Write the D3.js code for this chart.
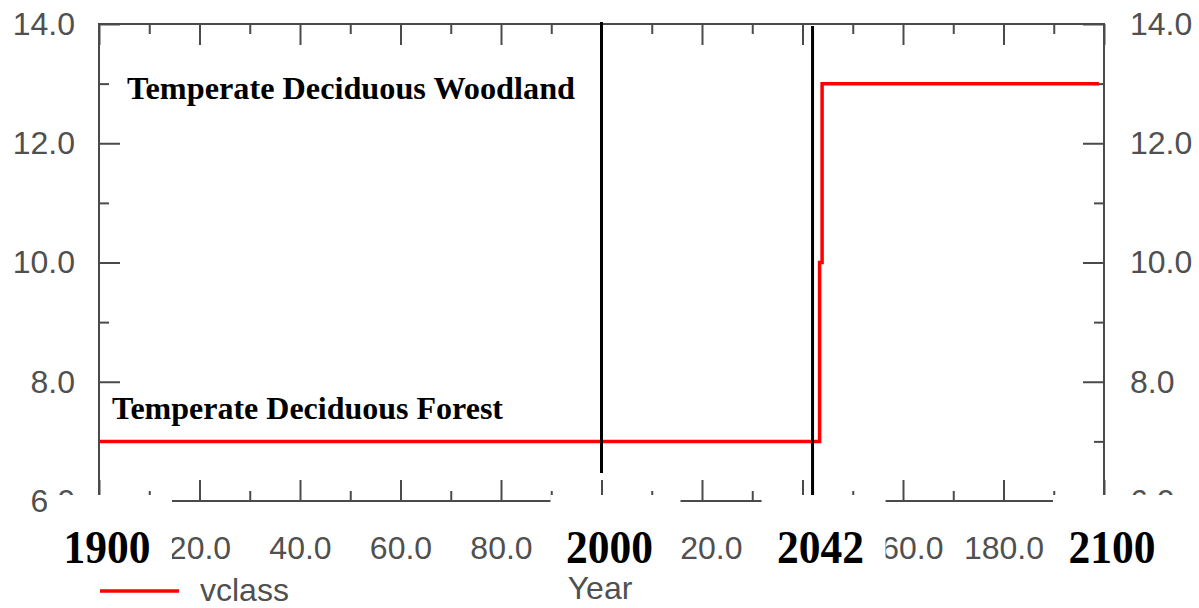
<!DOCTYPE html>
<html>
<head>
<meta charset="utf-8">
<script src="https://cdn.jsdelivr.net/npm/d3@7"></script>
<style>
  html, body { margin: 0; padding: 0; background: #ffffff; }
  svg { display: block; }
</style>
</head>
<body>
<svg id="chart" width="1199" height="608"></svg>
<script>
// Vegetation class series (step changes), calendar years
const years = [1900, 2043.4, 2043.9, 2099];
const vclass = [7, 10, 13, 13];

// Reference years marked with vertical lines and bold year labels
const refLineYears = [2000, 2042];
const yearLabels = [1900, 2000, 2042, 2100];

// Axis ticks
const yMajorTicks = [6, 8, 10, 12, 14];
const yMinorTicks = [7, 9, 11, 13];
const xMajorTicks = [1900, 1920, 1940, 1960, 1980, 2000, 2020, 2040, 2060, 2080, 2100];
const xMinorTicks = [1910, 1930, 1950, 1970, 1990, 2010, 2030, 2050, 2070, 2090];

// Class annotations
const classNames = ["Temperate Deciduous Woodland", "Temperate Deciduous Forest"];
const classValues = [13, 7];

const svg = d3.select("#chart");
const W = 1199, H = 608;
const plotLeft = 99, plotRight = 1104, plotTop = 24, plotBottom = 501;

const x = d3.scaleLinear().domain([1900, 2100]).range([plotLeft, plotRight]);
const y = d3.scaleLinear().domain([6, 14]).range([plotBottom, plotTop]);

const axisColor = "#4a4a4a";
const labelColor = "#505050";
const sansFont = "'Liberation Sans', Arial, sans-serif";
const serifFont = "'Liberation Serif', 'Times New Roman', serif";

svg.append("rect").attr("width", W).attr("height", H).attr("fill", "#ffffff");

function styleAxis(g) {
  g.select(".domain").remove();
  g.selectAll(".tick line").attr("stroke", axisColor).attr("stroke-width", 2);
  g.selectAll("text").attr("fill", labelColor)
    .attr("font-family", sansFont).attr("font-size", 32);
}

// Left axis
svg.append("g").attr("transform", `translate(${plotLeft},0)`)
  .call(d3.axisLeft(y).tickValues(yMajorTicks).tickSize(-21).tickPadding(24)
    .tickFormat(d => d.toFixed(1)))
  .call(styleAxis);
svg.append("g").attr("transform", `translate(${plotLeft},0)`)
  .call(d3.axisLeft(y).tickValues(yMinorTicks).tickSize(-10).tickFormat(""))
  .call(styleAxis);

// Right axis
svg.append("g").attr("transform", `translate(${plotRight},0)`)
  .call(d3.axisRight(y).tickValues(yMajorTicks).tickSize(-21).tickPadding(26)
    .tickFormat(d => d.toFixed(1)))
  .call(styleAxis);
svg.append("g").attr("transform", `translate(${plotRight},0)`)
  .call(d3.axisRight(y).tickValues(yMinorTicks).tickSize(-10).tickFormat(""))
  .call(styleAxis);

// Top axis (ticks only)
svg.append("g").attr("transform", `translate(0,${plotTop})`)
  .call(d3.axisTop(x).tickValues(xMajorTicks).tickSize(-21).tickFormat(""))
  .call(styleAxis);
svg.append("g").attr("transform", `translate(0,${plotTop})`)
  .call(d3.axisTop(x).tickValues(xMinorTicks).tickSize(-10).tickFormat(""))
  .call(styleAxis);

// Bottom axis: years since 1900 (ticks under the bold year labels are left blank)
const underYearLabel = d => yearLabels.some(v => Math.abs(v - d) < 5);
const bx = svg.append("g").attr("transform", `translate(0,${plotBottom})`)
  .call(d3.axisBottom(x).tickValues(xMajorTicks).tickSize(-21)
    .tickFormat(d => underYearLabel(d) ? "" : (d - 1900).toFixed(1)))
  .call(styleAxis);
bx.selectAll("text").attr("y", 58).attr("dy", null);
svg.append("g").attr("transform", `translate(0,${plotBottom})`)
  .call(d3.axisBottom(x).tickValues(xMinorTicks).tickSize(-10).tickFormat(""))
  .call(styleAxis);

// Plot frame
svg.append("rect")
  .attr("x", plotLeft).attr("y", plotTop)
  .attr("width", plotRight - plotLeft).attr("height", plotBottom - plotTop)
  .attr("fill", "none").attr("stroke", axisColor).attr("stroke-width", 2);

// Series line
const line = d3.line()
  .x((d, i) => x(years[i]))
  .y(d => y(d))
  .curve(d3.curveStepAfter);
svg.append("path")
  .datum(vclass)
  .attr("d", line)
  .attr("fill", "none")
  .attr("stroke", "#ff0000")
  .attr("stroke-width", 3.5);

// Vertical reference lines
const refTop = [22, 26];
const refBottom = [473, 500];
svg.selectAll(".ref-line").data(refLineYears).join("line")
  .attr("class", "ref-line")
  .attr("x1", d => x(d)).attr("x2", d => x(d))
  .attr("y1", (d, i) => refTop[i]).attr("y2", (d, i) => refBottom[i])
  .attr("stroke", "#000").attr("stroke-width", 3);

// Year label boxes covering the axis labels (left/right offsets from the year)
const boxLeftOff = [-52, -51, -51, -51];
const boxRightOff = [73, 79, 73, 75];
const boxes = svg.selectAll(".year-box").data(yearLabels).join("g")
  .attr("class", "year-box");
boxes.append("rect")
  .attr("x", (d, i) => x(d) + boxLeftOff[i]).attr("y", 495)
  .attr("width", (d, i) => boxRightOff[i] - boxLeftOff[i]).attr("height", 86)
  .attr("fill", "#ffffff");
boxes.append("text")
  .attr("x", d => x(d) + 8).attr("y", 563)
  .attr("text-anchor", "middle")
  .attr("font-family", serifFont).attr("font-weight", "bold")
  .attr("font-size", 47).attr("fill", "#000")
  .attr("textLength", 87).attr("lengthAdjust", "spacingAndGlyphs")
  .text(d => d);

// Class annotations
const annX = [127, 112];
const annLen = [448, 391];
const annDy = [15, -22];
svg.selectAll(".class-label").data(classNames).join("text")
  .attr("class", "class-label")
  .attr("x", (d, i) => annX[i])
  .attr("y", (d, i) => y(classValues[i]) + annDy[i])
  .attr("font-family", serifFont).attr("font-weight", "bold")
  .attr("font-size", 32).attr("fill", "#000")
  .attr("textLength", (d, i) => annLen[i]).attr("lengthAdjust", "spacingAndGlyphs")
  .text(d => d);

// Axis title
svg.append("text")
  .attr("x", 600).attr("y", 599)
  .attr("text-anchor", "middle")
  .attr("font-family", sansFont).attr("font-size", 32).attr("fill", labelColor)
  .text("Year");

// Legend
svg.append("line")
  .attr("x1", 100).attr("x2", 179).attr("y1", 591).attr("y2", 591)
  .attr("stroke", "#ff0000").attr("stroke-width", 3.5);
svg.append("text")
  .attr("x", 200).attr("y", 601)
  .attr("font-family", sansFont).attr("font-size", 32).attr("fill", labelColor)
  .text("vclass");
</script>
</body>
</html>
